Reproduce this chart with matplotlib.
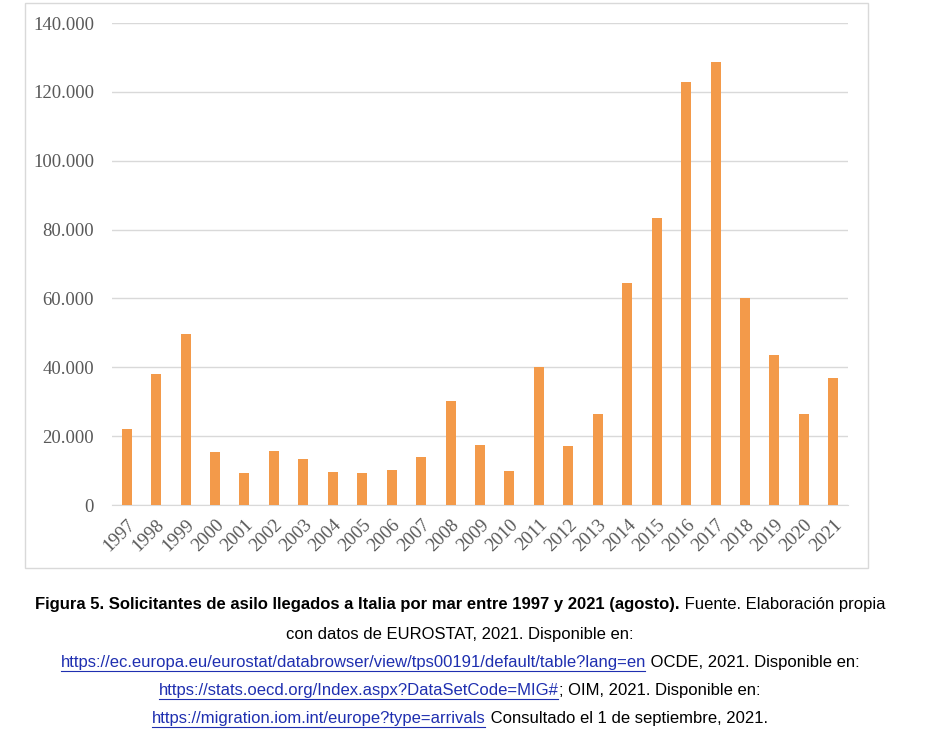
import matplotlib
matplotlib.use("Agg")
import matplotlib.pyplot as plt
from matplotlib.patches import Rectangle
from matplotlib.lines import Line2D

anios = [str(a) for a in range(1997, 2022)]
solicitantes = [22100, 38000, 49700, 15400, 9300, 15700, 13400, 9600, 9300, 10200,
                13900, 30200, 17400, 10000, 40100, 17100, 26400, 64500, 83400, 122800,
                128700, 60000, 43600, 26400, 36900]
yticks = list(range(0, 140001, 20000))
ytick_labels = ["0" if v == 0 else f"{v // 1000}.000" for v in yticks]

# pie de figura: (texto, tipo) por linea
caption = [
    [("Figura 5. Solicitantes de asilo llegados a Italia por mar entre 1997 y 2021 (agosto).", "b"),
     (" Fuente. Elaboración propia", "n")],
    [("con datos de EUROSTAT, 2021. Disponible en:", "n")],
    [("https://ec.europa.eu/eurostat/databrowser/view/tps00191/default/table?lang=en", "l"),
     (" OCDE, 2021. Disponible en:", "n")],
    [("https://stats.oecd.org/Index.aspx?DataSetCode=MIG#", "l"), ("; OIM, 2021. Disponible en:", "n")],
    [("https://migration.iom.int/europe?type=arrivals", "l"), (" Consultado el 1 de septiembre, 2021.", "n")],
]

W, H = 925, 741
fig = plt.figure(figsize=(W / 100, H / 100), dpi=100)
fig.patches.append(Rectangle((25 / W, 1 - 568 / H), (868 - 25) / W, (568 - 3) / H,
                             transform=fig.transFigure, fill=False, edgecolor="#d9d9d9", lw=1))

ax = fig.add_axes([112 / W, 1 - 505 / H, (848 - 112) / W, (505 - 23) / H])
x = list(range(len(anios)))
ax.bar(x, solicitantes, width=0.34, color="#f39a4a", zorder=3)
ax.set_xlim(-0.5, len(anios) - 0.5)
ax.set_ylim(0, 140000)
ax.set_yticks(yticks)
ax.set_yticklabels(ytick_labels)
ax.set_xticks(x)
ax.set_xticklabels(anios, rotation=45, ha="right", rotation_mode="anchor")
ax.grid(axis="y", color="#d9d9d9", lw=1, zorder=0)
for s in ["top", "right", "left"]:
    ax.spines[s].set_visible(False)
ax.spines["bottom"].set_color("#d9d9d9")
ax.tick_params(length=0, labelsize=13.5, labelcolor="#595959", pad=13)
ax.tick_params(axis="x", pad=8)
for lab in ax.get_xticklabels() + ax.get_yticklabels():
    lab.set_fontfamily("Liberation Serif")

# pie de figura
fig.canvas.draw()
r = fig.canvas.get_renderer()
ys = [605, 634, 662, 690, 718]
cx = 460
for linea, yp in zip(caption, ys):
    pieces = []
    total = 0
    for txt, tipo in linea:
        t = fig.text(0, 1 - yp / H, txt, fontsize=12, family="Liberation Sans",
                     fontweight="bold" if tipo == "b" else "normal",
                     color="#1f2fb0" if tipo == "l" else "black", va="center")
        w = t.get_window_extent(r).width
        pieces.append((t, w, tipo))
        total += w
    xp = cx - total / 2
    for t, w, tipo in pieces:
        t.set_x(xp / W)
        if tipo == "l":
            fig.lines.append(Line2D([xp / W, (xp + w - 1) / W], [1 - (yp + 9) / H] * 2,
                                    transform=fig.transFigure, color="#1f2fb0", lw=0.8))
        xp += w

fig.savefig("out.png", dpi=100)
